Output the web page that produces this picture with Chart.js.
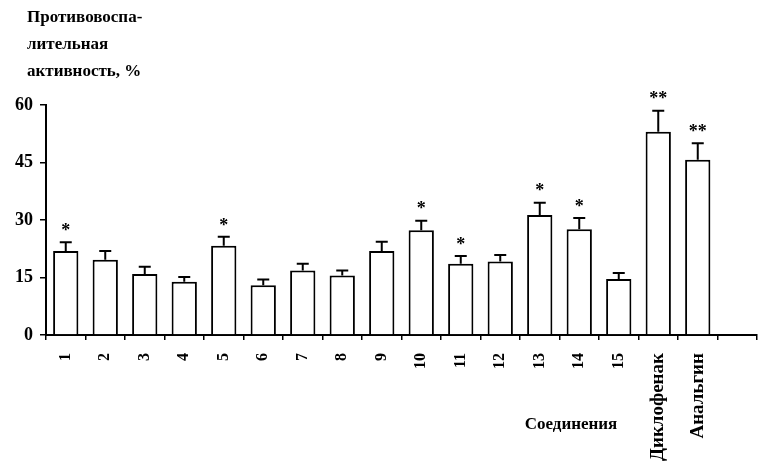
<!DOCTYPE html>
<html>
<head>
<meta charset="utf-8">
<script src="https://cdn.jsdelivr.net/npm/chart.js@4.4.1/dist/chart.umd.min.js"></script>
<style>
  html, body { margin: 0; padding: 0; background: #fff; }
  #wrap { width: 760px; height: 464px; }
</style>
</head>
<body>
<div id="wrap"><canvas id="chart"></canvas></div>
<script>
const labels = ['1', '2', '3', '4', '5', '6', '7', '8', '9', '10', '11', '12', '13', '14', '15', 'Диклофенак', 'Анальгин', ''];
const activity = [21.9, 19.6, 15.9, 13.9, 23.3, 13.0, 16.8, 15.5, 21.9, 27.3, 18.6, 19.2, 31.3, 27.6, 14.6, 53.0, 45.7, null];
const errors = [2.3, 2.3, 1.9, 1.2, 2.3, 1.5, 1.8, 1.3, 2.4, 2.5, 2.0, 1.7, 3.2, 2.9, 1.6, 5.5, 4.3, null];
const stars = ['*', '', '', '', '*', '', '', '', '', '*', '*', '', '*', '*', '', '**', '**', ''];
const yTicks = [0, 15, 30, 45, 60];

const titleLines = ['Противовоспа-', 'лительная', 'активность, %'];
const xTitle = 'Соединения';
const serif = '"Liberation Serif", "DejaVu Serif", serif';

// error bars, asterisks and the free-standing captions
const extras = {
    id: 'extras',
    afterDatasetsDraw(chart) {
        const ctx = chart.ctx;
        const meta = chart.getDatasetMeta(0);
        const y = chart.scales.y;
        ctx.save();
        ctx.strokeStyle = '#000';
        ctx.fillStyle = '#000';
        meta.data.forEach((bar, i) => {
            if (activity[i] == null) return;
            const top = y.getPixelForValue(activity[i]);
            const cap = y.getPixelForValue(activity[i] + errors[i]);
            ctx.lineWidth = 2;
            ctx.beginPath();
            ctx.moveTo(bar.x, top);
            ctx.lineTo(bar.x, cap);
            ctx.moveTo(bar.x - 6, cap);
            ctx.lineTo(bar.x + 6, cap);
            ctx.stroke();
            if (stars[i]) {
                ctx.font = 'bold 18px ' + serif;
                ctx.textAlign = 'center';
                ctx.textBaseline = 'middle';
                ctx.fillText(stars[i], bar.x, cap - 11);
            }
        });
        ctx.font = 'bold 17px ' + serif;
        ctx.textAlign = 'left';
        ctx.textBaseline = 'middle';
        titleLines.forEach((t, i) => ctx.fillText(t, 27, 18 + i * 27));
        ctx.textAlign = 'center';
        ctx.fillText(xTitle, 571, 425);
        ctx.restore();
    }
};

new Chart(document.getElementById('chart'), {
    type: 'bar',
    data: {
        labels: labels,
        datasets: [{
            data: activity,
            backgroundColor: '#fff',
            borderColor: '#000',
            borderWidth: 2,
            barPercentage: 0.64,
            categoryPercentage: 1
        }]
    },
    options: {
        responsive: true,
        maintainAspectRatio: false,
        animation: false,
        layout: { padding: { top: 105, right: 3, left: 0, bottom: 0 } },
        plugins: {
            legend: { display: false },
            tooltip: { enabled: false }
        },
        scales: {
            x: {
                afterFit: (scale) => {
                    scale.height = 129;
                    scale.paddingLeft = 0;
                    scale.paddingRight = 0;
                },
                grid: { drawOnChartArea: false, offset: true, tickLength: 5, color: '#000', lineWidth: 1.5 },
                border: { display: true, color: '#000', width: 2 },
                ticks: {
                    minRotation: 90,
                    maxRotation: 90,
                    autoSkip: false,
                    padding: 13,
                    color: '#000',
                    font: (c) => ({ family: serif, weight: 'bold', size: c.index >= 15 ? 19 : 16 })
                }
            },
            y: {
                min: 0,
                max: 60,
                afterFit: (scale) => { scale.width = 46; },
                afterBuildTicks: (scale) => { scale.ticks = yTicks.map(v => ({ value: v })); },
                grid: { drawOnChartArea: false, tickLength: 6, color: '#000', lineWidth: 1.5 },
                border: { display: true, color: '#000', width: 2 },
                ticks: {
                    padding: 7,
                    color: '#000',
                    font: { family: serif, weight: 'bold', size: 18 }
                }
            }
        }
    },
    plugins: [extras]
});
</script>
</body>
</html>
